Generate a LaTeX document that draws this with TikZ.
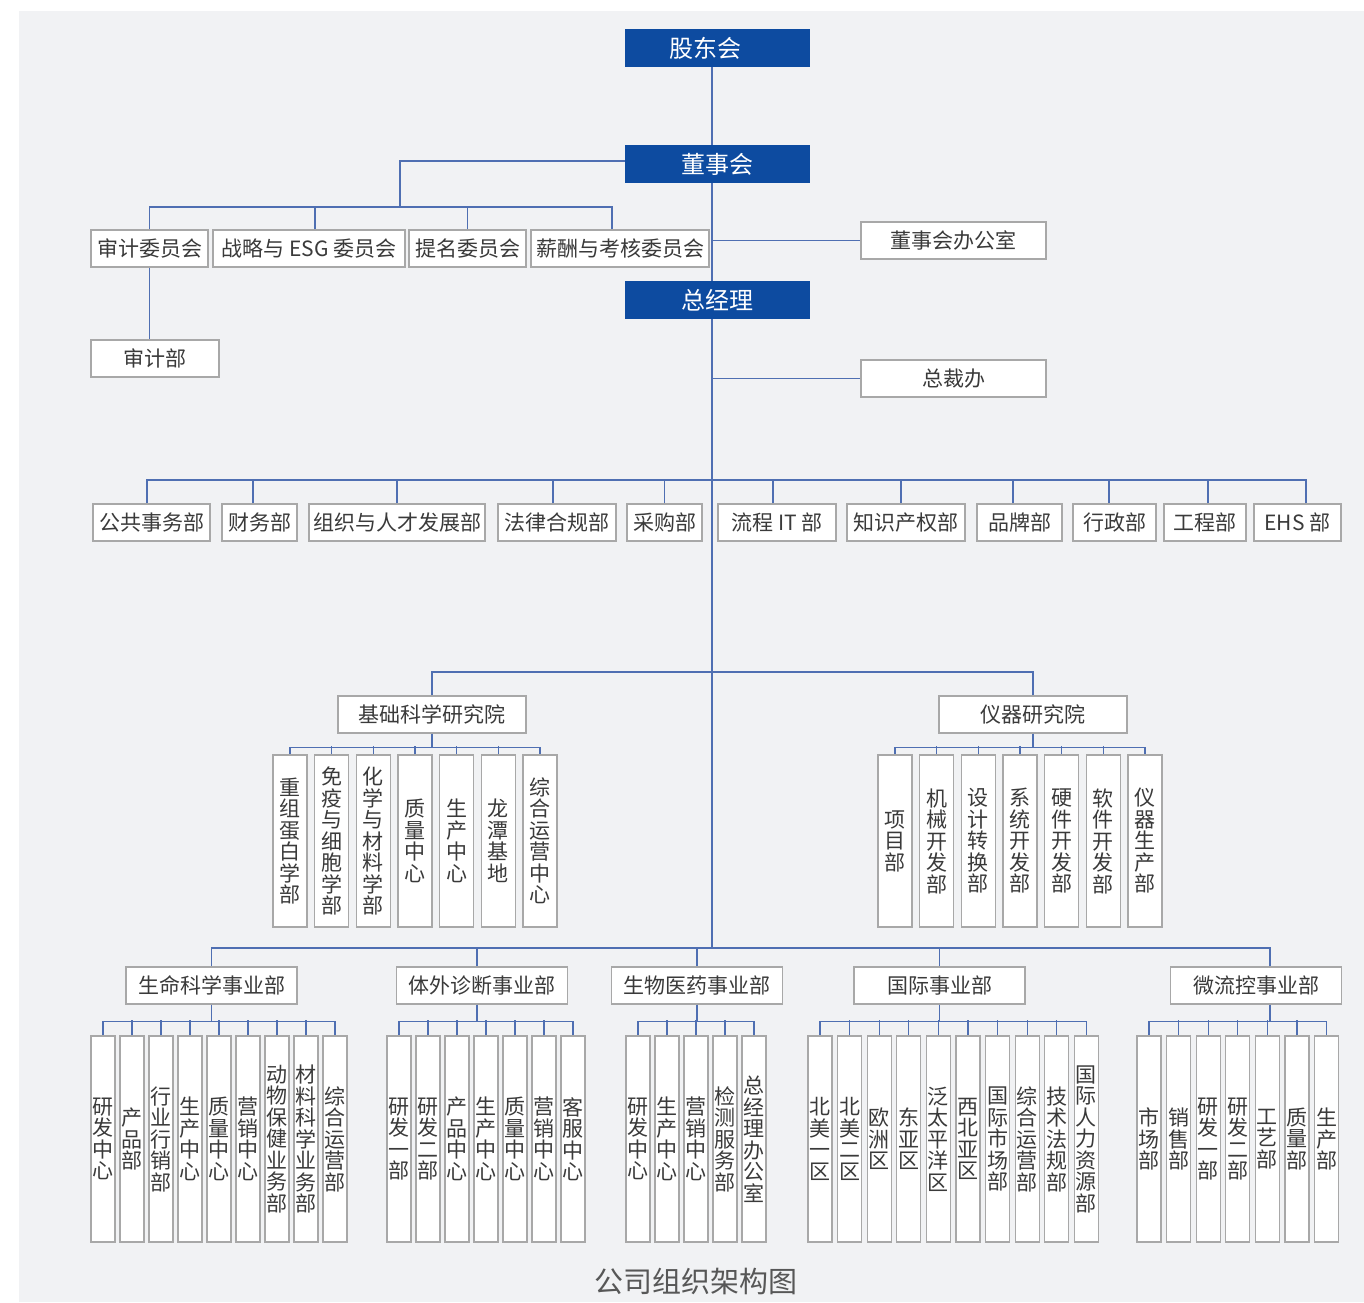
\documentclass[tikz,border=0pt]{standalone}
\usepackage{fontspec}
\setmainfont{Noto Sans CJK SC}
\usetikzlibrary{positioning}
\definecolor{navy}{HTML}{0D4BA0}
\definecolor{linec}{HTML}{4F6FB2}
\definecolor{framec}{HTML}{A8A8A8}
\definecolor{textc}{HTML}{3A3A3A}
\definecolor{paper}{HTML}{F1F2F4}
\begin{document}
\begin{tikzpicture}[x=1pt,y=-1pt]

		\tikzstyle{head}=[rectangle,
			fill=navy,draw=none,text=white,
			minimum height=38,minimum width=185,
			inner sep=0mm,font=\fontsize{24}{24}\selectfont]
		\tikzstyle{unit}=[rectangle,
			fill=white,draw=framec,line width=1.2pt,text=textc,
			minimum height=37,
			inner sep=0mm,font=\fontsize{21}{21}\selectfont]
		\tikzstyle{col}=[unit,
			minimum width=34,minimum height=172,
			node distance=41.67,	%=pitch of the columns
			align=center,font=\fontsize{21}{21.5}\selectfont]
		\tikzstyle{slim}=[col,
			minimum width=24,minimum height=206,
			node distance=29]
		\tikzstyle{slimw}=[slim,node distance=29.6]
		\tikzstyle{link}=[draw=linec,line width=1.3pt]

		\useasboundingbox (0,0) rectangle (1364,1302);
		\fill[white] (0,0) rectangle (1364,1302);
		\fill[paper] (19,11) rectangle (1364,1302);

		\coordinate (spine) at (712,0);
		\coordinate (cbus) at (400,207);
		\coordinate (dbus) at (712,480);
		\coordinate (ibus) at (712,672);
		\coordinate (bot) at (712,948);

		\node[head] (share) at (717.5,48) {股东会\hspace*{24pt}};
		\node[head] (board) at (717.5,164) {董事会};
		\node[head] (gm) at (717.5,300) {总经理};

		\node[unit,minimum width=185] (board-o) at (953.5,240.5) {董事会办公室};
		\node[unit,minimum width=185] (pres-o) at (953.5,378.5) {总裁办};

		\node[unit,minimum width=117] (audit-c) at (149.5,248.5) {审计委员会};
		\node[unit,minimum width=192] (esg-c) at (309,248.5) {战略与 ESG 委员会};
		\node[unit,minimum width=117] (nom-c) at (467.5,248.5) {提名委员会};
		\node[unit,minimum width=178] (pay-c) at (620,248.5) {薪酬与考核委员会};
		\node[unit,minimum width=128] (audit) at (155,358.5) {审计部};

		\node[unit,minimum width=117] (public) at (151.5,522.5) {公共事务部};
		\node[unit,minimum width=75] (finance) at (259.5,522.5) {财务部};
		\node[unit,minimum width=176] (talent) at (397,522.5) {组织与人才发展部};
		\node[unit,minimum width=118] (legal) at (557,522.5) {法律合规部};
		\node[unit,minimum width=75] (purchase) at (664.5,522.5) {采购部};
		\node[unit,minimum width=118] (it) at (777,522.5) {流程 IT 部};
		\node[unit,minimum width=118] (ip) at (906,522.5) {知识产权部};
		\node[unit,minimum width=85] (brand) at (1019.5,522.5) {品牌部};
		\node[unit,minimum width=83] (admin) at (1114.5,522.5) {行政部};
		\node[unit,minimum width=82] (eng) at (1205,522.5) {工程部};
		\node[unit,minimum width=87] (ehs) at (1297.5,522.5) {EHS 部};

		\node[unit,minimum width=188] (basic) at (432,714.5) {基础科学研究院};
		\node[unit,minimum width=188] (instr) at (1033,714.5) {仪器研究院};

		\node[col] (b1) at (290,841) {重\\组\\蛋\\白\\学\\部};
		\node[col,right of=b1] (b2) {免\\疫\\与\\细\\胞\\学\\部};
		\node[col,right of=b2] (b3) {化\\学\\与\\材\\料\\学\\部};
		\node[col,right of=b3] (b4) {质\\量\\中\\心};
		\node[col,right of=b4] (b5) {生\\产\\中\\心};
		\node[col,right of=b5] (b6) {龙\\潭\\基\\地};
		\node[col,right of=b6] (b7) {综\\合\\运\\营\\中\\心};

		\node[col] (i1) at (895,841) {项\\目\\部};
		\node[col,right of=i1] (i2) {机\\械\\开\\发\\部};
		\node[col,right of=i2] (i3) {设\\计\\转\\换\\部};
		\node[col,right of=i3] (i4) {系\\统\\开\\发\\部};
		\node[col,right of=i4] (i5) {硬\\件\\开\\发\\部};
		\node[col,right of=i5] (i6) {软\\件\\开\\发\\部};
		\node[col,right of=i6] (i7) {仪\\器\\生\\产\\部};

		\node[unit,minimum width=171] (life) at (211.5,985.5) {生命科学事业部};
		\node[unit,minimum width=171] (ivd) at (482,985.5) {体外诊断事业部};
		\node[unit,minimum width=171] (bio) at (697,985.5) {生物医药事业部};
		\node[unit,minimum width=171] (intl) at (939.5,985.5) {国际事业部};
		\node[unit,minimum width=171] (mf) at (1256,985.5) {微流控事业部};

		\node[slim] (l1) at (103,1139) {研\\发\\中\\心};
		\node[slim,right of=l1] (l2) {产\\品\\部};
		\node[slim,right of=l2] (l3) {行\\业\\行\\销\\部};
		\node[slim,right of=l3] (l4) {生\\产\\中\\心};
		\node[slim,right of=l4] (l5) {质\\量\\中\\心};
		\node[slim,right of=l5] (l6) {营\\销\\中\\心};
		\node[slim,right of=l6] (l7) {动\\物\\保\\健\\业\\务\\部};
		\node[slim,right of=l7] (l8) {材\\料\\科\\学\\业\\务\\部};
		\node[slim,right of=l8] (l9) {综\\合\\运\\营\\部};

		\node[slim] (v1) at (399,1139) {研\\发\\一\\部};
		\node[slim,right of=v1] (v2) {研\\发\\二\\部};
		\node[slim,right of=v2] (v3) {产\\品\\中\\心};
		\node[slim,right of=v3] (v4) {生\\产\\中\\心};
		\node[slim,right of=v4] (v5) {质\\量\\中\\心};
		\node[slim,right of=v5] (v6) {营\\销\\中\\心};
		\node[slim,right of=v6] (v7) {客\\服\\中\\心};

		\node[slim] (p1) at (638,1139) {研\\发\\中\\心};
		\node[slim,right of=p1] (p2) {生\\产\\中\\心};
		\node[slim,right of=p2] (p3) {营\\销\\中\\心};
		\node[slim,right of=p3] (p4) {检\\测\\服\\务\\部};
		\node[slim,right of=p4] (p5) {总\\经\\理\\办\\公\\室};

		\node[slimw] (n1) at (820,1139) {北\\美\\一\\区};
		\node[slimw,right of=n1] (n2) {北\\美\\二\\区};
		\node[slimw,right of=n2] (n3) {欧\\洲\\区};
		\node[slimw,right of=n3] (n4) {东\\亚\\区};
		\node[slimw,right of=n4] (n5) {泛\\太\\平\\洋\\区};
		\node[slimw,right of=n5] (n6) {西\\北\\亚\\区};
		\node[slimw,right of=n6] (n7) {国\\际\\市\\场\\部};
		\node[slimw,right of=n7] (n8) {综\\合\\运\\营\\部};
		\node[slimw,right of=n8] (n9) {技\\术\\法\\规\\部};
		\node[slimw,right of=n9] (n10) {国\\际\\人\\力\\资\\源\\部};

		\node[slimw] (m1) at (1149,1139) {市\\场\\部};
		\node[slimw,right of=m1] (m2) {销\\售\\部};
		\node[slimw,right of=m2] (m3) {研\\发\\一\\部};
		\node[slimw,right of=m3] (m4) {研\\发\\二\\部};
		\node[slimw,right of=m4] (m5) {工\\艺\\部};
		\node[slimw,right of=m5] (m6) {质\\量\\部};
		\node[slimw,right of=m6] (m7) {生\\产\\部};

		\node[text=textc!85,font=\fontsize{29}{29}\selectfont] (caption) at (695.5,1281) {公司组织架构图};

		\draw[link]	(share.south -| spine)	--	(board.north -| spine);
		\draw[link]	(board.south -| spine)	--	(gm.north -| spine);
		\draw[link]	(gm.south -| spine)	--	(bot);
		\draw[link]	(spine |- board-o.west)	--	(board-o.west);
		\draw[link]	(spine |- pres-o.west)	--	(pres-o.west);

		\draw[link]	([yshift=3pt]board.west)	-|	(cbus);
		\draw[link]	(audit-c.north)	|-	(cbus);
		\draw[link]	([xshift=6pt]esg-c.north)	|-	(cbus);
		\draw[link]	(nom-c.north)	|-	(cbus);
		\draw[link]	([xshift=-8pt]pay-c.north)	|-	(cbus);
		\draw[link]	(audit-c.south)	--	(audit-c.south |- audit.north);

		\draw[link]	([xshift=-4.5pt]public.north)	|-	(dbus);
		\draw[link]	([xshift=-6.5pt]finance.north)	|-	(dbus);
		\draw[link]	(talent.north)	|-	(dbus);
		\draw[link]	([xshift=-4pt]legal.north)	|-	(dbus);
		\draw[link]	(purchase.north)	|-	(dbus);
		\draw[link]	([xshift=-4pt]it.north)	|-	(dbus);
		\draw[link]	([xshift=-5pt]ip.north)	|-	(dbus);
		\draw[link]	([xshift=-6.5pt]brand.north)	|-	(dbus);
		\draw[link]	([xshift=-5.5pt]admin.north)	|-	(dbus);
		\draw[link]	([xshift=3pt]eng.north)	|-	(dbus);
		\draw[link]	([xshift=8.5pt]ehs.north)	|-	(dbus);

		\draw[link]	(basic.north)	|-	(ibus);
		\draw[link]	(instr.north)	|-	(ibus);
		\draw[link]	(basic.south) -- ++(0,14) -| (b1.north);
		\draw[link]	(basic.south) -- ++(0,14) -| (b7.north);
		\draw[link]	(b2.north) -- ++(0,-8);
		\draw[link]	(b3.north) -- ++(0,-8);
		\draw[link]	(b4.north) -- ++(0,-8);
		\draw[link]	(b5.north) -- ++(0,-8);
		\draw[link]	(b6.north) -- ++(0,-8);
		\draw[link]	(instr.south) -- ++(0,14) -| (i1.north);
		\draw[link]	(instr.south) -- ++(0,14) -| (i7.north);
		\draw[link]	(i2.north) -- ++(0,-8);
		\draw[link]	(i3.north) -- ++(0,-8);
		\draw[link]	(i4.north) -- ++(0,-8);
		\draw[link]	(i5.north) -- ++(0,-8);
		\draw[link]	(i6.north) -- ++(0,-8);

		\draw[link]	(life.north)	|-	(bot);
		\draw[link]	([xshift=-5pt]ivd.north)	|-	(bot);
		\draw[link]	(bio.north)	|-	(bot);
		\draw[link]	(intl.north)	|-	(bot);
		\draw[link]	([xshift=14pt]mf.north)	|-	(bot);

		\draw[link]	(life.south) -- ++(0,17) -| (l1.north);
		\draw[link]	(life.south) -- ++(0,17) -| (l9.north);
		\draw[link]	(l2.north) -- ++(0,-15);
		\draw[link]	(l3.north) -- ++(0,-15);
		\draw[link]	(l4.north) -- ++(0,-15);
		\draw[link]	(l5.north) -- ++(0,-15);
		\draw[link]	(l6.north) -- ++(0,-15);
		\draw[link]	(l7.north) -- ++(0,-15);
		\draw[link]	(l8.north) -- ++(0,-15);

		\draw[link]	([xshift=-5pt]ivd.south) -- ++(0,17) -| (v1.north);
		\draw[link]	([xshift=-5pt]ivd.south) -- ++(0,17) -| (v7.north);
		\draw[link]	(v2.north) -- ++(0,-15);
		\draw[link]	(v3.north) -- ++(0,-15);
		\draw[link]	(v4.north) -- ++(0,-15);
		\draw[link]	(v5.north) -- ++(0,-15);
		\draw[link]	(v6.north) -- ++(0,-15);

		\draw[link]	(bio.south) -- ++(0,17) -| (p1.north);
		\draw[link]	(bio.south) -- ++(0,17) -| (p5.north);
		\draw[link]	(p2.north) -- ++(0,-15);
		\draw[link]	(p3.north) -- ++(0,-15);
		\draw[link]	(p4.north) -- ++(0,-15);

		\draw[link]	(intl.south) -- ++(0,17) -| (n1.north);
		\draw[link]	(intl.south) -- ++(0,17) -| (n10.north);
		\draw[link]	(n2.north) -- ++(0,-15);
		\draw[link]	(n3.north) -- ++(0,-15);
		\draw[link]	(n4.north) -- ++(0,-15);
		\draw[link]	(n5.north) -- ++(0,-15);
		\draw[link]	(n6.north) -- ++(0,-15);
		\draw[link]	(n7.north) -- ++(0,-15);
		\draw[link]	(n8.north) -- ++(0,-15);
		\draw[link]	(n9.north) -- ++(0,-15);

		\draw[link]	([xshift=14pt]mf.south) -- ++(0,17) -| (m1.north);
		\draw[link]	([xshift=14pt]mf.south) -- ++(0,17) -| (m7.north);
		\draw[link]	(m2.north) -- ++(0,-15);
		\draw[link]	(m3.north) -- ++(0,-15);
		\draw[link]	(m4.north) -- ++(0,-15);
		\draw[link]	(m5.north) -- ++(0,-15);
		\draw[link]	(m6.north) -- ++(0,-15);

	\end{tikzpicture}
\end{document}
